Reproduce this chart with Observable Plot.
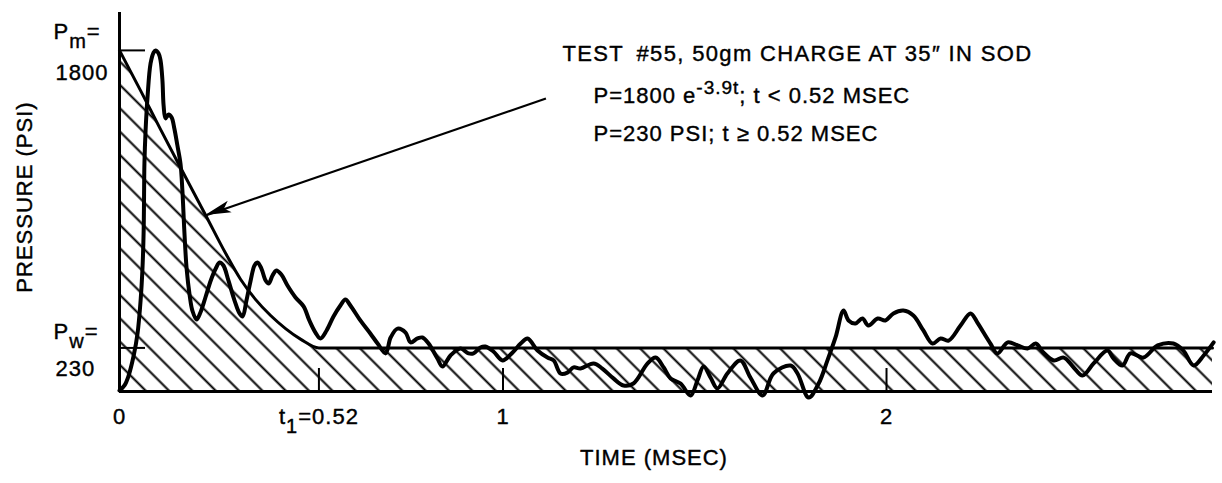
<!DOCTYPE html>
<html>
<head>
<meta charset="utf-8">
<script src="https://cdn.jsdelivr.net/npm/d3@7"></script>
<script src="https://cdn.jsdelivr.net/npm/@observablehq/plot@0.6"></script>
<style>
  html, body { margin: 0; padding: 0; background: #fff; }
  #chart svg { display: block; }
</style>
</head>
<body>
<div id="chart"></div>
<script>
// ---- Measured pressure trace (time in ms, pressure in psi) ----
const traceT = [0,.013,.023,.037,.047,.055,.060,.063,.064,.065,.068,.073,.081,.089,.094,.102,.107,.112,.115,.120,.128,.136,.143,.151,.159,.164,.169,.175,.183,.190,.201,.211,.224,.238,.251,.261,.271,.284,.300,.313,.321,.331,.342,.352,.360,.370,.381,.389,.399,.409,.422,.438,.459,.480,.495,.511,.524,.540,.558,.576,.589,.602,.628,.654,.673,.694,.707,.725,.746,.759,.777,.790,.806,.829,.842,.863,.889,.910,.923,.941,.954,.975,.999,1.025,1.046,1.064,1.090,1.116,1.132,1.150,1.168,1.184,1.202,1.236,1.259,1.288,1.314,1.340,1.377,1.398,1.419,1.437,1.463,1.489,1.507,1.523,1.541,1.559,1.585,1.619,1.645,1.677,1.705,1.750,1.768,1.797,1.823,1.846,1.867,1.888,1.901,1.919,1.937,1.953,1.977,1.997,2.018,2.044,2.070,2.096,2.120,2.141,2.162,2.193,2.219,2.237,2.253,2.271,2.289,2.316,2.342,2.368,2.389,2.409,2.436,2.462,2.488,2.511,2.540,2.576,2.592,2.615,2.636,2.670,2.707,2.748,2.774,2.801,2.827,2.853];
const traceP = [5,32,79,190,306,480,654,850,1024,1203,1377,1551,1731,1789,1800,1784,1747,1641,1509,1441,1462,1446,1388,1298,1203,1061,850,649,507,427,380,417,496,586,649,681,665,586,480,412,396,480,586,665,681,649,586,570,612,639,617,559,496,449,375,311,280,322,396,454,485,454,375,306,253,201,285,332,311,259,280,285,253,174,132,190,227,201,201,232,237,211,164,206,253,280,216,179,164,95,100,127,121,148,121,69,32,42,148,179,127,69,42,-21,58,132,74,16,95,164,74,-21,95,137,95,-32,42,164,285,427,375,359,385,348,385,375,412,427,401,322,253,280,269,348,412,364,311,253,201,259,243,227,253,206,164,179,127,84,148,216,174,137,201,179,243,253,216,137,190,259];

// ---- Idealised (fitted) pressure curve, as drawn ----
const fitT = [0, .055, .107, .159, .225, .277, .316, .355, .394, .433, .473, .52, 2.85];
const fitP = [1800, 1588, 1383, 1182, 929, 728, 591, 485, 401, 332, 275, 230, 230];

// ---- Axis labels / annotations ----
const xDomain = [0, 2.85];
const yDomain = [0, 2000];
const xTickValues = [0, 0.52, 1, 2];
const xTickLabels = ["0", "t_{1}=0.52", "1", "2"];
const xTickMarks = [0.52, 1, 2];
const levelValues = [1800, 230];
const levelNames = ["P_{m}=", "P_{w}="];
const levelNumbers = ["1800", "230"];
const xTitle = "TIME (MSEC)";
const yTitle = "PRESSURE (PSI)";
const noteLines = ["TEST\u2002#55, 50gm CHARGE AT 35\u2033 IN SOD", "P=1800 e^{-3.9t}; t < 0.52 MSEC", "P=230 PSI; t \u2265 0.52 MSEC"];
const arrowFromT = [1.112], arrowFromP = [1546], arrowToT = [0.2245], arrowToP = [929];

// ---- Build tables ----
const trace = traceT.map((t, i) => ({t, p: traceP[i]}));
const fit = fitT.map((t, i) => ({t, p: fitP[i]}));
const xLabels = xTickValues.map((v, i) => ({v, label: xTickLabels[i]}));
const levels = levelValues.map((v, i) => ({v, name: levelNames[i], num: levelNumbers[i]}));
const arrows = arrowFromT.map((t, i) => ({t1: t, p1: arrowFromP[i], t2: arrowToT[i], p2: arrowToP[i]}));

const FS = 22;
const font = "'Liberation Sans', Arial, Helvetica, sans-serif";
const txt = {fontSize: FS, fill: "#000", stroke: "#000", strokeWidth: 0.4};

const svg = Plot.plot({
  width: 1222,
  height: 483,
  marginLeft: 119,
  marginRight: 10,
  marginTop: 12,
  marginBottom: 92,
  style: {fontFamily: font, background: "#fff", color: "#000"},
  x: {domain: xDomain, axis: null},
  y: {domain: yDomain, axis: null},
  marks: [
    Plot.areaY(fit, {x: "t", y: "p", curve: "monotone-x", fill: "url(#hatch)"}),
    Plot.lineY(fit, {x: "t", y: "p", curve: "monotone-x", stroke: "#000", strokeWidth: 3}),
    Plot.lineY(trace, {x: "t", y: "p", curve: "catmull-rom", stroke: "#000", strokeWidth: 4, strokeLinejoin: "round", strokeLinecap: "round"}),
    Plot.ruleX([0], {stroke: "#000", strokeWidth: 3}),
    Plot.ruleY([0], {stroke: "#000", strokeWidth: 3}),
    Plot.ruleX(xTickMarks, {x: d => d, y1: 0, y2: 0, insetTop: -23, stroke: "#000", strokeWidth: 2}),
    Plot.ruleY(levelValues, {y: d => d, x1: 0, x2: 0, insetRight: -26, stroke: "#000", strokeWidth: 2}),
    Plot.link(arrows, {x1: "t1", y1: "p1", x2: "t2", y2: "p2", stroke: "#000", strokeWidth: 2.2}),
    Plot.text(xLabels, {x: "v", y: 0, text: "label", dy: 32, lineAnchor: "bottom", textAnchor: "middle", ...txt}),
    Plot.text(levels, {x: 0, y: "v", text: "name", dx: -66, lineAnchor: "bottom", textAnchor: "start", filter: d => d.v === 1800, dy: -11, ...txt}),
    Plot.text(levels, {x: 0, y: "v", text: "name", dx: -66, lineAnchor: "bottom", textAnchor: "start", filter: d => d.v === 230, dy: -9, ...txt}),
    Plot.text(levels, {x: 0, y: "v", text: "num", dx: -64, lineAnchor: "bottom", textAnchor: "start", filter: d => d.v === 1800, dy: 30, ...txt}),
    Plot.text(levels, {x: 0, y: "v", text: "num", dx: -64, lineAnchor: "bottom", textAnchor: "start", filter: d => d.v === 230, dy: 28, ...txt}),
    Plot.text([yTitle], {frameAnchor: "left", dx: -95, dy: -5, rotate: -90, textAnchor: "middle", lineAnchor: "middle", ...txt}),
    Plot.text([xTitle], {frameAnchor: "bottom", dx: -12, dy: 73, textAnchor: "middle", lineAnchor: "bottom", ...txt}),
    Plot.text([noteLines[0]], {frameAnchor: "top-left", dx: 443, dy: 48, textAnchor: "start", lineAnchor: "bottom", className: "note1", ...txt}),
    Plot.text([noteLines[1]], {frameAnchor: "top-left", dx: 474, dy: 90, textAnchor: "start", lineAnchor: "bottom", ...txt}),
    Plot.text([noteLines[2]], {frameAnchor: "top-left", dx: 474, dy: 128, textAnchor: "start", lineAnchor: "bottom", ...txt})
  ]
});

svg.style.letterSpacing = "1px";
d3.select(svg).selectAll("g.note1, .note1").style("letter-spacing", "1.35px");

// hatch pattern
const defs = d3.select(svg).insert("defs", ":first-child");
const pat = defs.append("pattern")
  .attr("id", "hatch")
  .attr("patternUnits", "userSpaceOnUse")
  .attr("width", 16.5).attr("height", 16.5)
  .attr("patternTransform", "rotate(-45)");
pat.append("line")
  .attr("x1", 8.25).attr("y1", -2).attr("x2", 8.25).attr("y2", 18.5)
  .attr("stroke", "#000").attr("stroke-width", 2);

// filled arrow head, positioned with Plot's own scales
const sx = svg.scale("x"), sy = svg.scale("y");
arrows.forEach(a => {
  const x1 = sx.apply(a.t1), y1 = sy.apply(a.p1), x2 = sx.apply(a.t2), y2 = sy.apply(a.p2);
  const len = Math.hypot(x1 - x2, y1 - y2), ux = (x1 - x2) / len, uy = (y1 - y2) / len;
  const L = 26, W = 6, N = 20;
  const pts = [
    [x2, y2],
    [x2 + L * ux - W * uy, y2 + L * uy + W * ux],
    [x2 + N * ux, y2 + N * uy],
    [x2 + L * ux + W * uy, y2 + L * uy - W * ux]
  ];
  d3.select(svg).append("polygon").attr("points", pts.map(p => p.join(",")).join(" ")).attr("fill", "#000");
});

// sub/superscripts: P_{m}, e^{-3.9t}
const NS = "http://www.w3.org/2000/svg";
d3.select(svg).selectAll("text").each(function () {
  const s = this.textContent;
  if (!/[_^]\{/.test(s)) return;
  this.textContent = "";
  const re = /([_^])\{([^}]*)\}/g;
  let last = 0, cur = 0, m;
  const add = (str, target, size) => {
    const t = document.createElementNS(NS, "tspan");
    t.textContent = str;
    const dy = target - cur;
    if (dy) t.setAttribute("dy", dy);
    if (size) t.setAttribute("font-size", size);
    cur = target;
    this.appendChild(t);
  };
  while ((m = re.exec(s))) {
    if (m.index > last) add(s.slice(last, m.index), 0);
    if (m[1] === "_") add(m[2], 9, 20);
    else add(m[2], -9, 19);
    last = re.lastIndex;
  }
  if (last < s.length) add(s.slice(last), 0);
});

document.getElementById("chart").appendChild(svg);
</script>
</body>
</html>
